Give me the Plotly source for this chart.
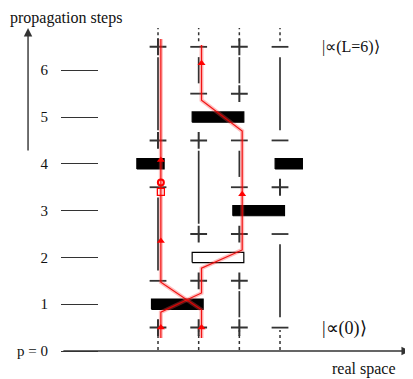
import plotly.graph_objects as go

# ---------------- data ----------------
step_vals = [0, 1, 2, 3, 4, 5, 6]
step_labels = ["p = 0", "1", "2", "3", "4", "5", "6"]
columns = [1, 2, 3, 4]

# signs in each column (half-step levels)
col1_levels = [0.5, 1.5, 3.5, 4.5, 6.5]
col1_signs = ["+", "-", "-", "+", "+"]
col2_levels = [0.5, 1.5, 2.5, 4.5, 5.5, 6.5]
col2_signs = ["+", "+", "+", "+", "-", "-"]
col3_levels = [0.5, 1.5, 2.5, 3.5, 4.5, 5.5, 6.5]
col3_signs = ["+", "+", "+", "-", "-", "+", "+"]
col4_levels = [0.5, 2.5, 3.5, 4.5, 6.5]
col4_signs = ["-", "-", "+", "-", "-"]

# two-site gates (boxes): step, left column, filled?
box_steps = [1, 2, 3, 4, 5]
box_left_col = [1, 2, 3, 4, 2]
box_filled = [True, False, True, True, True]

# red trajectories
pathA_x = [1, 1, 2, 2, 3, 3, 2, 2]
pathA_y = [0.28, 0.83, 1.24, 1.77, 2.16, 4.70, 5.36, 6.54]
pathB_x = [2, 2, 1, 1]
pathB_y = [0.28, 0.88, 1.47, 6.67]
arrow_x = [1, 2, 1, 1, 3, 2]
arrow_y = [0.5, 0.5, 2.35, 4.08, 3.35, 6.15]
circle_x, circle_y = [1], [3.6]
square_x, square_y = [1], [3.4]

# ---------------- styling ----------------
FONT = "Liberation Serif, Times New Roman, serif"
INK = "#333333"
RED_OFF = 0.07
GAP = 0.22
BOX_H = 0.11

col_levels = [col1_levels, col2_levels, col3_levels, col4_levels]
col_signs = [col1_signs, col2_signs, col3_signs, col4_signs]
ncol = len(columns)

fig = go.Figure()

# dashed stubs at top and bottom of each column
dx, dy = [], []
for c in columns:
    dx += [c, c, None, c, c, None]
    dy += [0.02, 0.45, None, 6.62, 6.9, None]
fig.add_trace(go.Scatter(x=dx, y=dy, mode="lines",
                         line=dict(color=INK, width=1.5, dash="3px,3px"),
                         hoverinfo="skip", showlegend=False))


def covered(col, step):
    for s, lc in zip(box_steps, box_left_col):
        rc = lc % ncol + 1
        if s == step and col in (lc, rc):
            return True
    return False


# vertical solid lines between consecutive signs not interrupted by a box
vx, vy = [], []
for c, levels in zip(columns, col_levels):
    for a, b in zip(levels[:-1], levels[1:]):
        blocked = any(covered(c, st) for st in range(int(a + 0.5), int(b + 0.5)))
        if not blocked:
            vx += [c, c, None]
            vy += [a + GAP, b - GAP, None]
fig.add_trace(go.Scatter(x=vx, y=vy, mode="lines",
                         line=dict(color=INK, width=1.7),
                         hoverinfo="skip", showlegend=False))

# boxes
for s, lc, filled in zip(box_steps, box_left_col, box_filled):
    rc = lc + 1
    if rc <= ncol:
        pieces = [(lc - 0.16, rc + 0.11)]
    else:
        pieces = [(lc - 0.12, lc + 0.55), (1 - 0.52, 1 + 0.15)]
    for x0, x1 in pieces:
        fig.add_trace(go.Scatter(
            x=[x0, x1, x1, x0, x0],
            y=[s - BOX_H, s - BOX_H, s + BOX_H, s + BOX_H, s - BOX_H],
            mode="lines", fill="toself",
            fillcolor="black" if filled else "white",
            line=dict(color="black", width=1.2),
            hoverinfo="skip", showlegend=False))

# signs
px_, py_, mx_, my_ = [], [], [], []
for c, levels, signs in zip(columns, col_levels, col_signs):
    for lv, sg in zip(levels, signs):
        if sg == "+":
            px_.append(c); py_.append(lv)
        else:
            mx_.append(c); my_.append(lv)
fig.add_trace(go.Scatter(x=px_, y=py_, mode="markers",
                         marker=dict(symbol="cross-thin", size=12, color=INK,
                                     line=dict(color=INK, width=2)),
                         hoverinfo="skip", showlegend=False))
fig.add_trace(go.Scatter(x=mx_, y=my_, mode="markers",
                         marker=dict(symbol="line-ew", size=12, color=INK,
                                     line=dict(color=INK, width=1.8)),
                         hoverinfo="skip", showlegend=False))

# red trajectories (halo + core)
for xs, ys in [(pathA_x, pathA_y), (pathB_x, pathB_y)]:
    xo = [x + RED_OFF for x in xs]
    fig.add_trace(go.Scatter(x=xo, y=ys, mode="lines",
                             line=dict(color="rgba(255,70,70,0.35)", width=4),
                             hoverinfo="skip", showlegend=False))
    fig.add_trace(go.Scatter(x=xo, y=ys, mode="lines",
                             line=dict(color="rgba(240,0,0,0.9)", width=1.2),
                             hoverinfo="skip", showlegend=False))

fig.add_trace(go.Scatter(x=[x + RED_OFF for x in arrow_x], y=arrow_y, mode="markers",
                         marker=dict(symbol="triangle-up", size=7, color="red"),
                         hoverinfo="skip", showlegend=False))
fig.add_trace(go.Scatter(x=[x + RED_OFF for x in circle_x], y=circle_y, mode="markers",
                         marker=dict(symbol="circle-open", size=6, color="red",
                                     line=dict(color="red", width=2)),
                         hoverinfo="skip", showlegend=False))
fig.add_trace(go.Scatter(x=[x + RED_OFF for x in square_x], y=square_y, mode="markers",
                         marker=dict(symbol="square-open", size=7, color="red",
                                     line=dict(color="red", width=1.3)),
                         hoverinfo="skip", showlegend=False))

# ---------------- axes / labels ----------------
tickfont = dict(family=FONT, size=15, color="#111111")
tfont = dict(family=FONT, size=16, color="#111111")
annotations = [
    # horizontal axis (p = 0 line) with arrow
    dict(x=0.990, y=0, xref="paper", yref="y", ax=-348, ay=0,
         text="", showarrow=True, arrowhead=2, arrowsize=1.2, arrowwidth=1.4,
         arrowcolor=INK, standoff=0),
    # vertical axis arrow
    dict(x=-0.226, y=0.946, xref="paper", yref="paper", ax=0, ay=124,
         text="", showarrow=True, arrowhead=2, arrowsize=1.2, arrowwidth=1.4,
         arrowcolor=INK, standoff=0),
    dict(x=-0.105, y=0.974, xref="paper", yref="paper", text="propagation steps",
         xanchor="center", yanchor="middle", showarrow=False, font=tfont),
    dict(x=6.07, y=-0.385, xref="x", yref="y", text="real space",
         xanchor="center", yanchor="middle", showarrow=False, font=tfont),
    dict(x=5.75, y=6.5, xref="x", yref="y", text="|∝(L=6)⟩", xanchor="center",
         yanchor="middle", showarrow=False,
         font=dict(family=FONT, size=16, color="#111111")),
    dict(x=5.58, y=0.48, xref="x", yref="y", text="|∝(0)⟩", xanchor="center",
         yanchor="middle", showarrow=False,
         font=dict(family=FONT, size=18, color="#111111")),
]

fig.update_layout(
    width=405, height=371,
    margin=dict(l=91, r=0, t=0, b=0, autoexpand=False),
    paper_bgcolor="white", plot_bgcolor="white",
    annotations=annotations,
    xaxis=dict(range=[-0.451, 7.27], visible=False, fixedrange=True, automargin=False),
    yaxis=dict(range=[-0.598, 7.33], tickvals=step_vals, ticktext=step_labels,
               ticks="outside", ticklen=37, tickwidth=1.3, tickcolor=INK,
               showgrid=False, zeroline=False, showline=False, automargin=False,
               ticklabelstandoff=10, tickfont=tickfont, fixedrange=True),
    showlegend=False,
)

fig.write_html("out.html")
